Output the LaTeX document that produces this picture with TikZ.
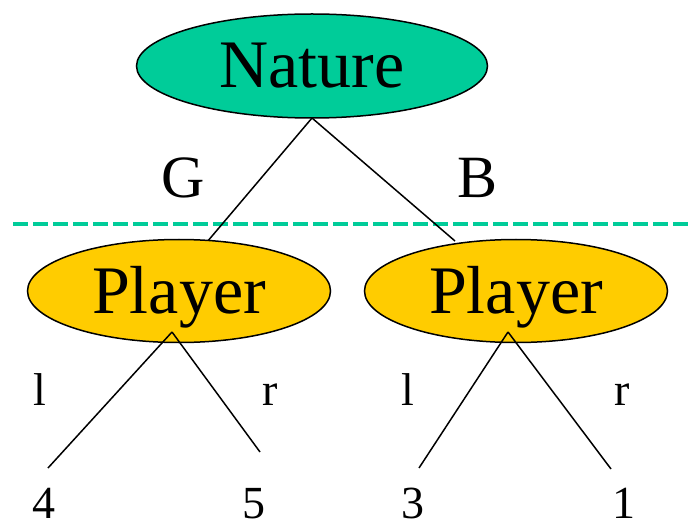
\documentclass[tikz,border=0pt]{standalone}
\usepackage{fontspec}
\setmainfont{Liberation Serif}
\usetikzlibrary{shapes, positioning}
\definecolor{naturegreen}{HTML}{00CC99}
\definecolor{playeryellow}{HTML}{FFCC00}
\newcommand{\bigfont}{\fontsize{68}{68}\selectfont}
\newcommand{\midfont}{\fontsize{60}{60}\selectfont}
\newcommand{\smallfont}{\fontsize{46}{46}\selectfont}

\begin{document}
\begin{tikzpicture}[x=1pt, y=-1pt, line width=1.5pt,
		every node/.style={inner sep=0pt},
		chance/.style={ellipse, draw, line width=1.5pt, fill=naturegreen, minimum width=351pt, minimum height=104pt, font=\bigfont, text height=44pt, text depth=0pt},
		mover/.style={ellipse, draw, line width=1.5pt, fill=playeryellow, minimum width=303pt, minimum height=103pt, font=\bigfont, text height=44pt, text depth=0pt},
		lbl/.style={anchor=base, font=\smallfont}]
		\useasboundingbox (0,0) rectangle (690,521);
		% information set
		\draw[naturegreen, line width=4pt, dash pattern=on 15pt off 5pt] (13,224) -- (690,224);
		\coordinate (gEnd) at (207,242);
		\coordinate (bEnd) at (455,241);
		\draw (312,118) -- (gEnd);
		\draw (312,118) -- (bEnd);
		\node[chance] (nature) at (312,66) {Nature};
		\node[anchor=base, font=\midfont] (g) at (183,198) {G};
		\node[anchor=base, font=\midfont] (b) at (478,198) {B};
		\node[mover] (pl) at (179,291) {Player};
		\node[mover] (pr) at (516,291) {Player};
		\coordinate (plTop) at (172,332);
		\coordinate (prTop) at (508,332);
		\coordinate (ll) at (48,468);
		\coordinate (lr) at (260,452);
		\coordinate (rl) at (419,468);
		\coordinate (rr) at (611,469);
		\foreach \from/\to in {plTop/ll,plTop/lr,prTop/rl,prTop/rr}
			\draw (\from) -- (\to);
		\node[lbl] (lL) at (40,405) {l};
		\node[lbl] (lR) at (270,405) {r};
		\node[lbl] (rL) at (408,405) {l};
		\node[lbl] (rR) at (622,405) {r};
		\node[lbl] (four) at (44,518) {4};
		\node[lbl] (five) at (254,518) {5};
		\node[lbl] (three) at (413,518) {3};
		\node[lbl] (one) at (624,518) {1};
	\end{tikzpicture}
\end{document}
